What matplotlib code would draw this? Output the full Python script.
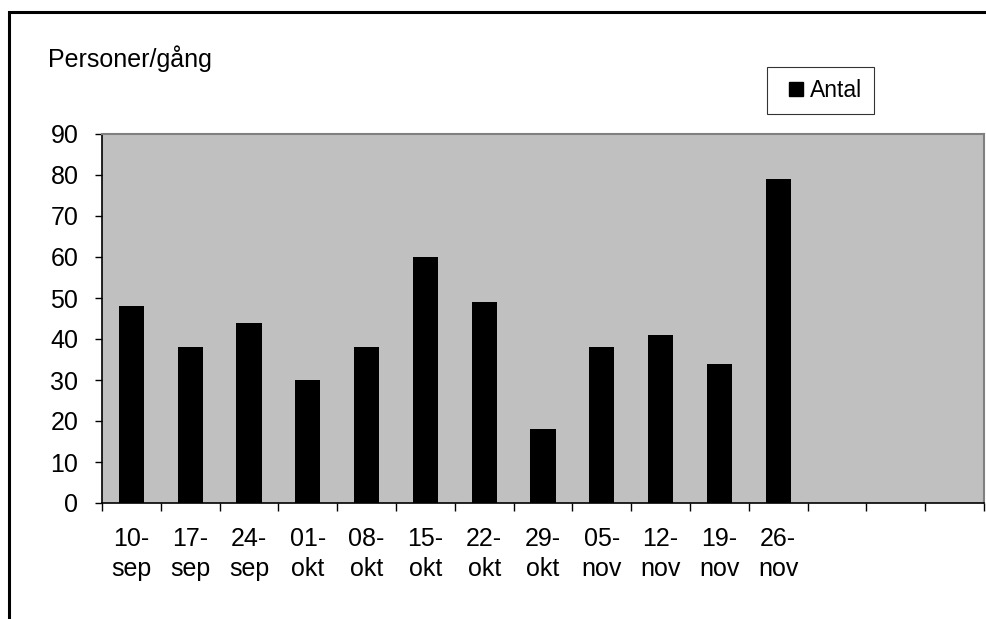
import matplotlib.pyplot as plt
from matplotlib.patches import Rectangle
from matplotlib.lines import Line2D

plt.rcParams['font.family'] = ['Liberation Sans', 'DejaVu Sans']

dates = ['10-\nsep', '17-\nsep', '24-\nsep', '01-\nokt', '08-\nokt', '15-\nokt',
         '22-\nokt', '29-\nokt', '05-\nnov', '12-\nnov', '19-\nnov', '26-\nnov']
antal = [48, 38, 44, 30, 38, 60, 49, 18, 38, 41, 34, 79]
n_slots = 15
yticks = list(range(0, 91, 10))

font_size = 18
legend_font_size = 16.5
W, H = 986, 619

fig = plt.figure(figsize=(W / 100, H / 100), dpi=100)
ax = fig.add_axes([102 / W, (H - 503) / H, (984 - 102) / W, (503 - 134) / H])
ax.set_facecolor('#c0c0c0')

x = list(range(len(antal)))
ax.bar(x, antal, width=0.43, color='black', zorder=3)

ax.set_xlim(-0.5, n_slots - 0.5)
ax.set_ylim(0, 90)

# major ticks on slot borders, labels on slot centres
ax.set_xticks([i - 0.5 for i in range(n_slots + 1)])
ax.set_xticklabels([])
ax.set_xticks(x, minor=True)
ax.set_xticklabels(dates, minor=True, fontsize=font_size, linespacing=1.33)
ax.tick_params(axis='x', which='major', direction='out', length=5.5, width=1)
ax.tick_params(axis='x', which='minor', length=0, pad=17)

ax.set_yticks(yticks)
ax.tick_params(axis='y', direction='out', length=5, width=1, pad=12,
               labelsize=font_size)

for side in ['left', 'bottom']:
    ax.spines[side].set_color('black')
    ax.spines[side].set_linewidth(1.2)
for side in ['top', 'right']:
    ax.spines[side].set_color('#808080')
    ax.spines[side].set_linewidth(1.5)

fig.text(48 / W, 1 - 67 / H, 'Personer/gång', fontsize=font_size,
         ha='left', va='baseline')

handle = Line2D([], [], linestyle='none', marker='s', markersize=10,
                color='black')
leg = ax.legend([handle], ['Antal'], loc='upper left',
                bbox_to_anchor=(767 / W, 1 - 67 / H),
                bbox_transform=fig.transFigure, fontsize=legend_font_size,
                frameon=True, fancybox=False, handlelength=1.5,
                handletextpad=-0.15, borderpad=0.52, borderaxespad=0)
leg.get_frame().set_edgecolor('black')
leg.get_frame().set_linewidth(0.8)

# outer chart frame (only top/left visible in picture)
fig.patches.append(Rectangle((9 / W, -0.2), 1.2, (H - 12) / H + 0.2,
                             transform=fig.transFigure, fill=False,
                             edgecolor='black', linewidth=2.2))

fig.savefig('out.png', dpi=100)
